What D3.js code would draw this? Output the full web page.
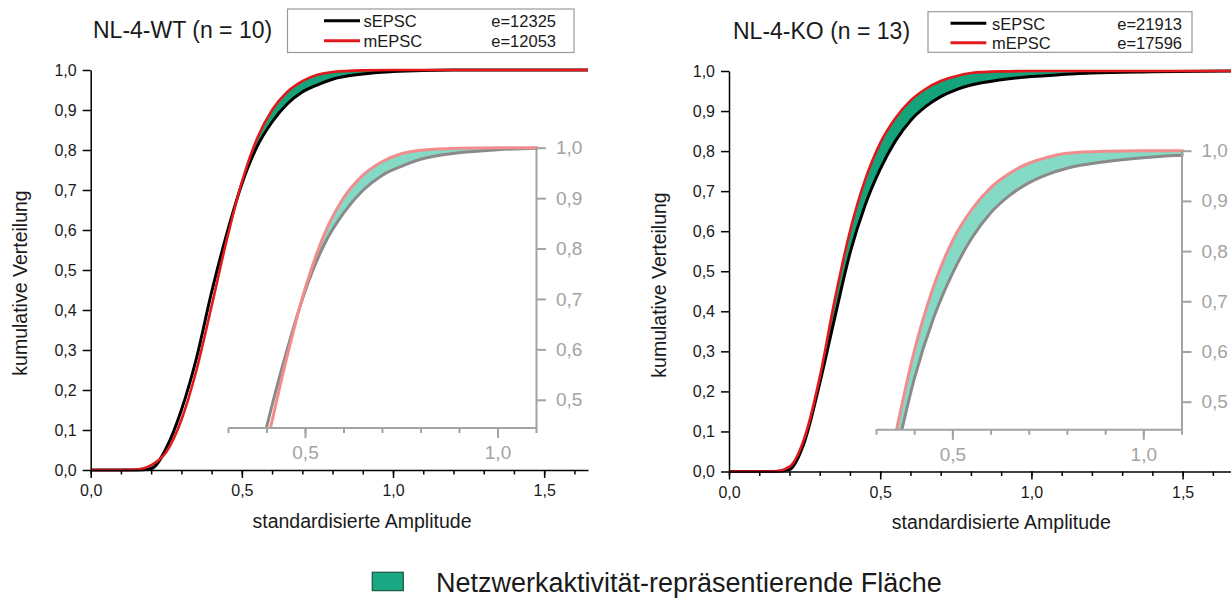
<!DOCTYPE html>
<html>
<head>
<meta charset="utf-8">
<script src="https://cdn.jsdelivr.net/npm/d3@7"></script>
<style>
  html, body { margin: 0; padding: 0; background: #fff; }
  svg { display: block; font-family: "Liberation Sans", Arial, sans-serif; }
</style>
</head>
<body>
<svg id="chart" width="1231" height="599"></svg>
<script>
// Standardised amplitude grid (shared by all cumulative curves)
const amp = [0, 0.1, 0.15, 0.2, 0.25, 0.3, 0.35, 0.4, 0.45, 0.5, 0.55, 0.6, 0.65, 0.7, 0.75, 0.8, 0.9, 1.0, 1.1, 1.2, 1.4, 1.66];

// Cumulative distributions, NL-4-WT
const wtSEPSC = [0, 0, 0, 0.003, 0.055, 0.15, 0.28, 0.445, 0.59, 0.715, 0.808, 0.87, 0.915, 0.945, 0.963, 0.977, 0.99, 0.996, 0.999, 1.0, 1.0, 1.0];
const wtMEPSC = [0, 0, 0.001, 0.012, 0.045, 0.125, 0.25, 0.41, 0.575, 0.72, 0.828, 0.9, 0.945, 0.972, 0.988, 0.995, 0.999, 1.0, 1.0, 1.0, 1.0, 1.0];

// Cumulative distributions, NL-4-KO
const koSEPSC = [0, 0, 0, 0.005, 0.075, 0.22, 0.385, 0.545, 0.665, 0.755, 0.825, 0.876, 0.911, 0.936, 0.953, 0.965, 0.978, 0.986, 0.991, 0.995, 0.998, 1.0];
const koMEPSC = [0, 0, 0, 0.012, 0.085, 0.235, 0.43, 0.6, 0.728, 0.82, 0.882, 0.926, 0.955, 0.975, 0.987, 0.995, 0.999, 1.0, 1.0, 1.0, 1.0, 1.0];

const panelTitles = ["NL-4-WT (n = 10)", "NL-4-KO (n = 13)"];
const seriesNames = ["sEPSC", "mEPSC"];
const eventCounts = [["e=12325", "e=12053"], ["e=21913", "e=17596"]];

// Axis ticks
const yTicks = [0, 0.1, 0.2, 0.3, 0.4, 0.5, 0.6, 0.7, 0.8, 0.9, 1.0];
const xMajorTicks = [0, 0.5, 1.0, 1.5];
const xMinorTicks = [0, 0.1, 0.2, 0.3, 0.4, 0.5, 0.6, 0.7, 0.8, 0.9, 1.0, 1.1, 1.2, 1.3, 1.4, 1.5, 1.6];
const insetYTicks = [0.5, 0.6, 0.7, 0.8, 0.9, 1.0];
const insetXMajor = [0.5, 1.0];
const insetXMinor = [0.3, 0.4, 0.5, 0.6, 0.7, 0.8, 0.9, 1.0, 1.1];

const xLabel = "standardisierte Amplitude";
const yLabel = "kumulative Verteilung";
const areaLabel = "Netzwerkaktivität-repräsentierende Fläche";

const FONT = '"Liberation Sans", Arial, sans-serif';
const COL = {
  text: "#1a1a1a",
  black: "#000000",
  red: "#e3191c",
  fill: "#14a37b",
  insetGray: "#8a8a8a",
  insetPink: "#f28d8d",
  insetFill: "#85dac6",
  insetAxis: "#a3a3a3",
  legendBox: "#9a9a9a"
};

const fmt = v => d3.format(".1f")(v).replace(".", ",");
const svg = d3.select("#chart");

const panels = [
  {
    id: "wt", s: wtSEPSC, m: wtMEPSC,
    xMax: 1.645, xRange: [90.7, 588], yRange: [470, 70],
    inset: { xRange: [228, 536], yRange: [427.5, 147.7] },
    title: { x: 93, y: 37.5 },
    legend: { box: [287.5, 9, 286.5, 43.5], lineX: [324, 360], rows: [20.7, 40.7], textX: 363.5, eX: 556 },
    xLab: { x: 362, y: 527.5 }, yLab: { x: 26.5, y: 283 }
  },
  {
    id: "ko", s: koSEPSC, m: koMEPSC,
    xMax: 1.66, xRange: [729, 1231], yRange: [471.5, 71],
    inset: { xRange: [876, 1181.5], yRange: [429.3, 150.7] },
    title: { x: 733, y: 38.5 },
    legend: { box: [928, 11.7, 264, 40.6], lineX: [950.5, 986.3], rows: [23.3, 42.7], textX: 992, eX: 1182 },
    xLab: { x: 1001.3, y: 529.3 }, yLab: { x: 666, y: 285 }
  }
];

function styleAxis(g, color, width, fontSize) {
  g.attr("font-family", FONT).attr("font-size", fontSize);
  g.selectAll("path.domain").attr("stroke", color).attr("stroke-width", width);
  g.selectAll(".tick line").attr("stroke", color).attr("stroke-width", width);
  g.selectAll(".tick text").attr("fill", color === COL.black ? COL.text : color);
}

panels.forEach((p, pi) => {
  const rows = amp.map((a, i) => ({ a, s: p.s[i], m: p.m[i] }));
  const g = svg.append("g").attr("class", "panel-" + p.id);

  // ---------- inset (magnified upper part) ----------
  const ix = d3.scaleLinear().domain([0.3, 1.1]).range(p.inset.xRange);
  const iy = d3.scaleLinear().domain([0.445, 1.0]).range(p.inset.yRange);
  const clipI = "clip-inset-" + p.id;
  g.append("clipPath").attr("id", clipI).append("rect")
    .attr("x", ix.range()[0]).attr("y", iy(1.0) - 5)
    .attr("width", ix.range()[1] - ix.range()[0] + 2)
    .attr("height", iy(0.445) - iy(1.0) + 5);

  const gi = g.append("g").attr("clip-path", `url(#${clipI})`);
  gi.append("path").datum(rows)
    .attr("fill", COL.insetFill)
    .attr("d", d3.area().curve(d3.curveMonotoneX)
      .x(d => ix(d.a)).y0(d => iy(d.s)).y1(d => iy(Math.max(d.s, d.m))));
  gi.append("path").datum(rows)
    .attr("fill", "none").attr("stroke", COL.insetGray).attr("stroke-width", 3)
    .attr("d", d3.line().curve(d3.curveMonotoneX).x(d => ix(d.a)).y(d => iy(d.s)));
  gi.append("path").datum(rows)
    .attr("fill", "none").attr("stroke", COL.insetPink).attr("stroke-width", 3)
    .attr("d", d3.line().curve(d3.curveMonotoneX).x(d => ix(d.a)).y(d => iy(d.m)));

  // inset axes
  const iyAxis = g.append("g").attr("transform", `translate(${ix.range()[1]},0)`)
    .call(d3.axisRight(iy).tickValues(insetYTicks).tickFormat(fmt).tickSize(10).tickPadding(10).tickSizeOuter(0));
  styleAxis(iyAxis, COL.insetAxis, 2, 19);
  const ixMinor = g.append("g").attr("transform", `translate(0,${iy.range()[0]})`)
    .call(d3.axisBottom(ix).tickValues(insetXMinor).tickFormat("").tickSize(5.5).tickSizeOuter(0));
  styleAxis(ixMinor, COL.insetAxis, 2, 19);
  const ixMajor = g.append("g").attr("transform", `translate(0,${iy.range()[0]})`)
    .call(d3.axisBottom(ix).tickValues(insetXMajor).tickFormat(fmt).tickSize(10.5).tickPadding(8).tickSizeOuter(0));
  styleAxis(ixMajor, COL.insetAxis, 2, 19);
  ixMajor.select("path.domain").remove();

  // ---------- main chart ----------
  const x = d3.scaleLinear().domain([0, p.xMax]).range(p.xRange);
  const y = d3.scaleLinear().domain([0, 1]).range(p.yRange);
  const clipM = "clip-main-" + p.id;
  g.append("clipPath").attr("id", clipM).append("rect")
    .attr("x", x(0)).attr("y", y(1) - 5)
    .attr("width", x(p.xMax) - x(0)).attr("height", y(0) - y(1) + 7);

  const gm = g.append("g").attr("clip-path", `url(#${clipM})`);
  gm.append("path").datum(rows)
    .attr("fill", COL.fill)
    .attr("d", d3.area().curve(d3.curveMonotoneX)
      .x(d => x(d.a)).y0(d => y(d.s)).y1(d => y(Math.max(d.s, d.m))));
  gm.append("path").datum(rows)
    .attr("fill", "none").attr("stroke", COL.black).attr("stroke-width", 3)
    .attr("d", d3.line().curve(d3.curveMonotoneX).x(d => x(d.a)).y(d => y(d.s)));
  gm.append("path").datum(rows)
    .attr("fill", "none").attr("stroke", COL.red).attr("stroke-width", 2.6)
    .attr("d", d3.line().curve(d3.curveMonotoneX).x(d => x(d.a)).y(d => y(d.m)));

  const yAxis = g.append("g").attr("transform", `translate(${x(0)},0)`)
    .call(d3.axisLeft(y).tickValues(yTicks).tickFormat(fmt).tickSize(8).tickPadding(6).tickSizeOuter(0));
  styleAxis(yAxis, COL.black, 1.5, 16);
  const xMinor = g.append("g").attr("transform", `translate(0,${y(0)})`)
    .call(d3.axisBottom(x).tickValues(xMinorTicks).tickFormat("").tickSize(4.5).tickSizeOuter(0));
  styleAxis(xMinor, COL.black, 1.5, 16);
  const xMajor = g.append("g").attr("transform", `translate(0,${y(0)})`)
    .call(d3.axisBottom(x).tickValues(xMajorTicks).tickFormat(fmt).tickSize(8).tickPadding(7).tickSizeOuter(0));
  styleAxis(xMajor, COL.black, 1.5, 16);
  xMajor.select("path.domain").remove();

  // axis titles
  g.append("text").attr("x", p.xLab.x).attr("y", p.xLab.y)
    .attr("text-anchor", "middle").attr("font-family", FONT).attr("font-size", 19.5)
    .attr("fill", COL.text).text(xLabel);
  g.append("text")
    .attr("transform", `translate(${p.yLab.x},${p.yLab.y}) rotate(-90)`)
    .attr("text-anchor", "middle").attr("font-family", FONT).attr("font-size", 19.5)
    .attr("fill", COL.text).text(yLabel);

  // panel title
  g.append("text").attr("x", p.title.x).attr("y", p.title.y)
    .attr("font-family", FONT).attr("font-size", 23).attr("fill", COL.text)
    .text(panelTitles[pi]);

  // legend box
  const L = p.legend;
  g.append("rect").attr("x", L.box[0]).attr("y", L.box[1])
    .attr("width", L.box[2]).attr("height", L.box[3])
    .attr("fill", "#fff").attr("stroke", COL.legendBox).attr("stroke-width", 1.2);
  [COL.black, COL.red].forEach((c, i) => {
    g.append("line").attr("x1", L.lineX[0]).attr("x2", L.lineX[1])
      .attr("y1", L.rows[i]).attr("y2", L.rows[i])
      .attr("stroke", c).attr("stroke-width", 3);
    g.append("text").attr("x", L.textX).attr("y", L.rows[i] + 6.5)
      .attr("font-family", FONT).attr("font-size", 16.5).attr("fill", COL.text)
      .text(seriesNames[i]);
    g.append("text").attr("x", L.eX).attr("y", L.rows[i] + 6.5)
      .attr("text-anchor", "end")
      .attr("font-family", FONT).attr("font-size", 16.5).attr("fill", COL.text)
      .text(eventCounts[pi][i]);
  });
});

// shared legend for the shaded area
svg.append("rect").attr("x", 372.3).attr("y", 572.3).attr("width", 31).attr("height", 18.3)
  .attr("fill", "#19a882").attr("stroke", "#1d5c47").attr("stroke-width", 1.3);
svg.append("text").attr("x", 436).attr("y", 591.5)
  .attr("font-family", FONT).attr("font-size", 27).attr("fill", COL.text)
  .text(areaLabel);
</script>
</body>
</html>
